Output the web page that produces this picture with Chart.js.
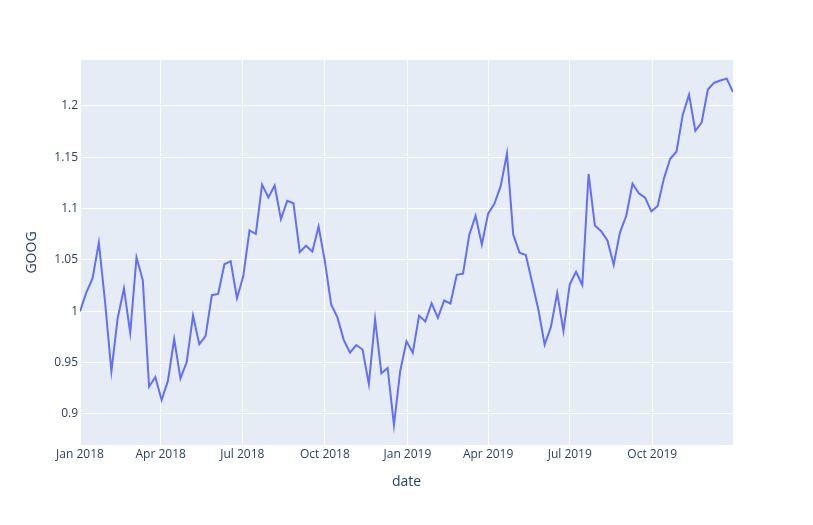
<!DOCTYPE html>
<html><head><meta charset="utf-8">
<script src="https://cdn.jsdelivr.net/npm/chart.js@4.4.1/dist/chart.umd.min.js"></script>
<style>html,body{margin:0;padding:0;background:#fff;}#wrap{width:813px;height:525px;}</style>
</head><body><div id="wrap"><canvas id="c" width="813" height="525"></canvas></div>
<script>
const startDate = [2018, 0, 1];
const weekCount = 105;
const goog = [1.000000,1.018172,1.032008,1.066783,1.008773,0.941528,0.993259,1.022282,0.978852,1.052448,1.030440,0.926606,0.935967,0.913592,0.932208,0.972967,0.934746,0.950577,0.995890,0.967883,0.975856,1.015700,1.016884,1.045818,1.048813,1.012728,1.034077,1.078861,1.075320,1.123431,1.110929,1.122614,1.089813,1.107548,1.105200,1.057655,1.063904,1.058134,1.082704,1.048941,1.006633,0.994058,0.972190,0.959658,0.967201,0.962758,0.929232,0.992354,0.939602,0.944746,0.889212,0.941928,0.970856,0.959764,0.995799,0.990075,1.007830,0.993707,1.010575,1.007686,1.035606,1.036611,1.074613,1.093018,1.065019,1.095147,1.104633,1.121934,1.153788,1.074803,1.057180,1.054768,1.028586,1.001751,0.967521,0.984779,1.017785,0.980893,1.026353,1.038513,1.025640,1.133794,1.083526,1.078061,1.069027,1.045365,1.076930,1.093107,1.124480,1.115010,1.110740,1.097270,1.102633,1.129474,1.148563,1.155415,1.191534,1.210908,1.175897,1.183918,1.216081,1.222701,1.224885,1.226658,1.213606];
const xTickLabels = ['Jan 2018','Apr 2018','Jul 2018','Oct 2018','Jan 2019','Apr 2019','Jul 2019','Oct 2019'];
const xTickDates = [[2018,0,1],[2018,3,1],[2018,6,1],[2018,9,1],[2019,0,1],[2019,3,1],[2019,6,1],[2019,9,1]];
const yTicks = [0.9, 0.95, 1, 1.05, 1.1, 1.15, 1.2];

const DAY = 86400000;
const t0 = Date.UTC(...startDate);
const dates = Array.from({length: weekCount}, (_, i) => t0 + i * 7 * DAY);
const points = goog.map((v, i) => ({x: dates[i], y: v}));
const xTickVals = xTickDates.map(d => Date.UTC(...d));

const bgPlugin = {
  id: 'plotbg',
  beforeDraw(chart) {
    const {ctx, chartArea: a} = chart;
    ctx.save();
    ctx.fillStyle = '#E5ECF6';
    ctx.fillRect(a.left, a.top, a.right - a.left, a.bottom - a.top);
    ctx.restore();
  }
};

const font = {family: '"Open Sans", Verdana, Arial, sans-serif', size: 12};
new Chart(document.getElementById('c'), {
  type: 'line',
  data: {datasets: [{label: 'GOOG', data: points, borderColor: '#636efa', borderWidth: 2, pointRadius: 0, tension: 0, fill: false}]},
  options: {
    responsive: false, animation: false,
    layout: {padding: {left: 0, right: 80, top: 60, bottom: 0}},
    plugins: {legend: {display: false}, tooltip: {enabled: false}},
    scales: {
      x: {
        type: 'linear', min: dates[0], max: dates[dates.length - 1],
        afterBuildTicks(s) { s.ticks = xTickVals.map(v => ({value: v})); },
        afterFit(s) { s.height = 80; },
        ticks: {autoSkip: false, maxRotation: 0, color: '#2a3f5f', font, padding: 2,
          callback(v) { const i = xTickVals.indexOf(v); return i >= 0 ? xTickLabels[i] : ''; }},
        grid: {color: '#ffffff', lineWidth: 1, drawTicks: false},
        border: {display: false},
        title: {display: true, text: 'date', color: '#2a3f5f', font: {family: font.family, size: 14}, padding: {top: 0, bottom: 35}}
      },
      y: {
        type: 'linear', min: 0.8698, max: 1.2448,
        afterBuildTicks(s) { s.ticks = yTicks.map(v => ({value: v})); },
        afterFit(s) { s.width = 80; },
        ticks: {color: '#2a3f5f', font, padding: 2, callback: v => String(v)},
        grid: {color: '#ffffff', lineWidth: 1, drawTicks: false},
        border: {display: false},
        title: {display: true, text: 'GOOG', color: '#2a3f5f', font: {family: font.family, size: 14}, padding: {top: 24, bottom: 0}}
      }
    }
  },
  plugins: [bgPlugin]
});
</script></body></html>
